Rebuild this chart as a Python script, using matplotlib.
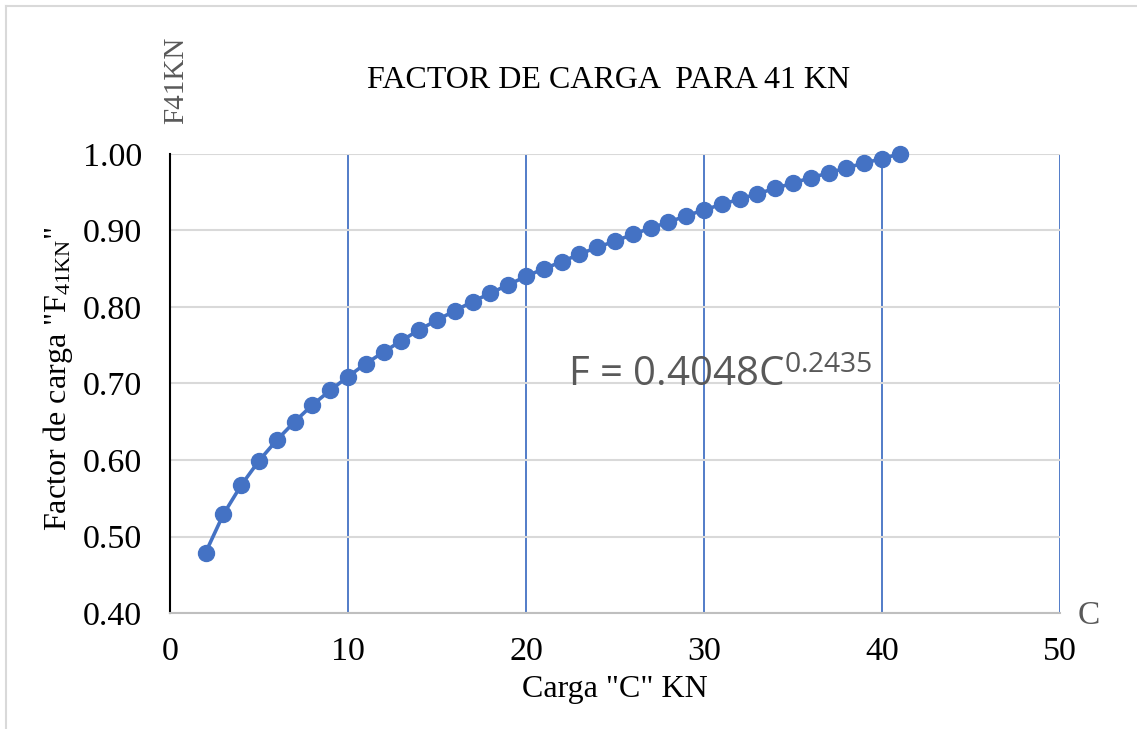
import matplotlib
matplotlib.use("Agg")
import matplotlib.pyplot as plt
from matplotlib.lines import Line2D

# carga C (KN) y factor de carga
carga = list(range(2, 42))
factor = [0.479, 0.529, 0.567, 0.599, 0.626, 0.650, 0.672, 0.691, 0.709, 0.726,
          0.741, 0.756, 0.770, 0.783, 0.795, 0.807, 0.818, 0.829, 0.840, 0.850,
          0.859, 0.869, 0.878, 0.886, 0.895, 0.903, 0.911, 0.919, 0.927, 0.934,
          0.941, 0.948, 0.955, 0.962, 0.969, 0.975, 0.982, 0.988, 0.994, 1.000]
x_ticks = [0, 10, 20, 30, 40, 50]
y_ticks = [0.4, 0.5, 0.6, 0.7, 0.8, 0.9, 1.0]

blue = '#4472C4'
serif = 'Liberation Serif'
plt.rcParams['font.family'] = serif
plt.rcParams['mathtext.fontset'] = 'custom'
plt.rcParams['mathtext.rm'] = serif
plt.rcParams['mathtext.it'] = serif
plt.rcParams['mathtext.sf'] = 'Open Sans'

fig = plt.figure(figsize=(11.37, 7.29), dpi=100)
ax = fig.add_axes([0.1495, 0.1591, 0.7828, 0.6297])

ax.plot(carga, factor, color=blue, lw=2.6, marker='o', ms=11.5, zorder=3, clip_on=False)

ax.set_xlim(0, 50)
ax.set_ylim(0.4, 1.0)
ax.set_xticks(x_ticks)
ax.set_yticks(y_ticks)
ax.set_yticklabels(['%.2f' % v for v in y_ticks])
ax.tick_params(length=0, labelsize=24.5)
ax.tick_params(axis='y', pad=20)
ax.tick_params(axis='x', pad=17)

ax.grid(axis='y', color='#D9D9D9', lw=1.5)
ax.grid(axis='x', color=blue, lw=1.3)
ax.set_axisbelow(True)
for s in ['top', 'right']:
    ax.spines[s].set_visible(False)
ax.spines['left'].set_color('black')
ax.spines['left'].set_linewidth(1.5)
ax.spines['bottom'].set_color('#BFBFBF')
ax.spines['bottom'].set_linewidth(1.5)

ax.set_xlabel('Carga "C" KN', fontsize=23, labelpad=6)
ax.set_ylabel('Factor de carga "F$_{\\mathrm{41KN}}$"', fontsize=23, labelpad=6)
ax.yaxis.label.set_y(0.51)

fig.text(0.535, 0.889, 'FACTOR DE CARGA  PARA 41 KN', fontsize=23, ha='center', va='center')
fig.text(0.155, 0.89, 'F41KN', fontsize=21, rotation=90, color='#595959', ha='center', va='center')
fig.text(0.958, 0.155, 'C', fontsize=24, color='#595959', ha='center', va='center')
ax.text(22.35, 0.71, 'F = 0.4048C$^{\\mathsf{0.2435}}$', fontsize=29, color='#595959',
        family='Open Sans', ha='left', va='center')

# marco del grafico
fig.add_artist(Line2D([6 / 1137, 6 / 1137], [0, 1 - 6 / 729], transform=fig.transFigure, color='#D9D9D9', lw=1.5))
fig.add_artist(Line2D([6 / 1137, 1], [1 - 6 / 729, 1 - 6 / 729], transform=fig.transFigure, color='#D9D9D9', lw=1.5))

plt.savefig('out.png', dpi=100)
